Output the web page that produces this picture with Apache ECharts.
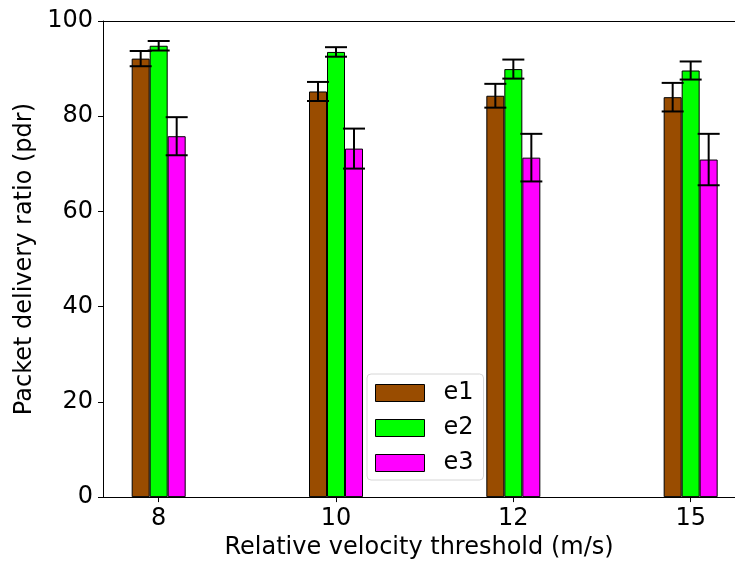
<!DOCTYPE html>
<html>
<head>
<meta charset="utf-8">
<script src="https://cdn.jsdelivr.net/npm/echarts@6/dist/echarts.min.js"></script>
<style>html,body{margin:0;padding:0;background:#fff;}#c{width:735px;height:565px;}</style>
</head>
<body>
<div id="c"></div>
<script>
// ---- data ----
var categories = ['8', '10', '12', '15'];
var seriesNames = ['e1', 'e2', 'e3'];
var e1Values = [92.1, 85.2, 84.3, 84.0];
var e2Values = [94.8, 93.5, 89.9, 89.6];
var e3Values = [75.8, 73.2, 71.3, 70.9];
var e1Errors = [1.6, 2.0, 2.5, 3.0];
var e2Errors = [1.0, 1.0, 2.0, 1.9];
var e3Errors = [4.0, 4.2, 5.0, 5.4];
var yTicks = [0, 20, 40, 60, 80, 100];

// ---- styling ----
var FONT = 'DejaVu Sans';
var FS = 24;
var colors = ['#994C00', '#00FF00', '#FF00FF'];
var BAR_W = 18;
var CAP_HALF = 11;
var allValues = [e1Values, e2Values, e3Values];
var allErrors = [e1Errors, e2Errors, e3Errors];
var positions = categories.map(function (c, i) { return i; });
var X_MIN = -0.314, X_MAX = 3.25;

var chart = echarts.init(document.getElementById('c'), null, {renderer: 'canvas'});

var series = [];
seriesNames.forEach(function (name, s) {
  series.push({
    name: name,
    type: 'bar',
    barWidth: BAR_W,
    barGap: '0%',
    data: positions.map(function (x, i) { return [x, allValues[s][i]]; }),
    itemStyle: {color: colors[s], borderColor: '#000', borderWidth: 1},
    emphasis: {disabled: true},
    z: 2
  });
});
seriesNames.forEach(function (name, s) {
  var offset = (s - 1) * BAR_W;
  series.push({
    type: 'custom',
    name: name + ' err',
    data: positions.map(function (x, i) {
      return [x, allValues[s][i] - allErrors[s][i], allValues[s][i] + allErrors[s][i]];
    }),
    encode: {x: 0, y: [1, 2]},
    z: 5,
    silent: true,
    renderItem: function (params, api) {
      var lo = api.coord([api.value(0), api.value(1)]);
      var hi = api.coord([api.value(0), api.value(2)]);
      var x = lo[0] + offset;
      var st = {stroke: '#000', lineWidth: 2};
      return {
        type: 'group',
        children: [
          {type: 'line', shape: {x1: x, y1: lo[1], x2: x, y2: hi[1]}, style: st},
          {type: 'line', shape: {x1: x - CAP_HALF, y1: lo[1], x2: x + CAP_HALF, y2: lo[1]}, style: st},
          {type: 'line', shape: {x1: x - CAP_HALF, y1: hi[1], x2: x + CAP_HALF, y2: hi[1]}, style: st}
        ]
      };
    }
  });
});

chart.setOption({
  animation: false,
  backgroundColor: '#fff',
  textStyle: {fontFamily: FONT},
  grid: {left: 103, right: 0, top: 21, bottom: 66, show: false},
  legend: {
    data: seriesNames,
    orient: 'vertical',
    left: 367,
    top: 374,
    padding: [7, 10, 5, 8],
    itemWidth: 49,
    itemHeight: 17,
    itemGap: 11,
    icon: 'rect',
    borderColor: '#d6d6d6',
    borderWidth: 1,
    borderRadius: 4,
    backgroundColor: 'rgba(255,255,255,0.8)',
    textStyle: {fontFamily: FONT, fontSize: FS, color: '#000', padding: [0, 0, 0, 14]},
    itemStyle: {borderColor: '#000', borderWidth: 1}
  },
  xAxis: [{
    type: 'value',
    min: X_MIN,
    max: X_MAX,
    name: 'Relative velocity threshold (m/s)',
    nameLocation: 'middle',
    nameGap: 38,
    nameTextStyle: {fontFamily: FONT, fontSize: FS, color: '#000'},
    axisLine: {show: true, onZero: false, lineStyle: {color: '#000', width: 1}},
    axisTick: {show: true, length: 5, lineStyle: {color: '#000'}, customValues: positions},
    axisLabel: {
      fontFamily: FONT, fontSize: FS, color: '#000', margin: 10,
      customValues: positions,
      formatter: function (v) { return categories[Math.round(v)]; }
    },
    splitLine: {show: false}
  }, {
    type: 'value',
    position: 'top',
    min: X_MIN,
    max: X_MAX,
    axisLine: {show: true, onZero: false, lineStyle: {color: '#000', width: 1}},
    axisTick: {show: false},
    axisLabel: {show: false},
    splitLine: {show: false}
  }],
  yAxis: {
    type: 'value',
    min: 0,
    max: 100,
    interval: 20,
    name: 'Packet delivery ratio (pdr)',
    nameLocation: 'middle',
    nameGap: 64,
    nameTextStyle: {fontFamily: FONT, fontSize: FS, color: '#000'},
    axisLine: {show: true, onZero: false, lineStyle: {color: '#000', width: 1}},
    axisTick: {show: true, length: 5, lineStyle: {color: '#000'}},
    axisLabel: {
      fontFamily: FONT, fontSize: FS, color: '#000', margin: 10,
      formatter: function (v) { return yTicks.indexOf(v) >= 0 ? String(v) : ''; }
    },
    splitLine: {show: false}
  },
  series: series
});
</script>
</body>
</html>
